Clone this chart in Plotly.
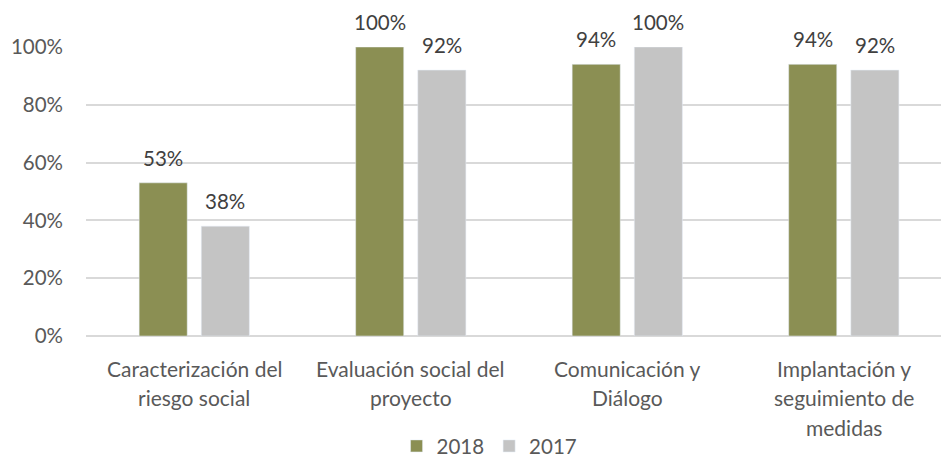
import plotly.graph_objects as go

categories = [
    ["Caracterización del", "riesgo social"],
    ["Evaluación social del", "proyecto"],
    ["Comunicación y", "Diálogo"],
    ["Implantación y", "seguimiento de", "medidas"],
]
series_2018 = [0.53, 1.00, 0.94, 0.94]
series_2017 = [0.38, 0.92, 1.00, 0.92]
y_ticks = [0, 0.2, 0.4, 0.6, 0.8, 1.0]
y_tick_labels = ["0%", "20%", "40%", "60%", "80%", "100%"]

GREEN = "#8B8F53"
GREY = "#C4C4C4"
FONT = "Lato"
TEXT_DARK = "#404040"
TEXT_AXIS = "#595959"
NUM_SIZE = 20.5
LABEL_SIZE = 21

x = list(range(len(categories)))
bar_w = 0.222
gap = 0.065
series = [("2018", series_2018, GREEN, -bar_w - gap / 2),
          ("2017", series_2017, GREY, gap / 2)]

fig = go.Figure()
for name, vals, color, off in series:
    fig.add_trace(go.Bar(
        x=x, y=vals, name=name, marker_color=color,
        width=bar_w, offset=off, cliponaxis=False,
    ))
    # value labels above each bar
    for i, v in enumerate(vals):
        fig.add_annotation(
            x=i + off + bar_w / 2, xref="x", y=v, yref="y",
            yanchor="bottom", yshift=11, text=f"{v:.0%}", showarrow=False,
            font=dict(size=NUM_SIZE, color=TEXT_DARK, family=FONT),
        )

# category labels, one annotation per line for wider line spacing
for i, lines in enumerate(categories):
    for j, line in enumerate(lines):
        fig.add_annotation(
            x=i, xref="x", y=0, yref="paper", yanchor="middle",
            yshift=-32 - 29.5 * j, text=line, showarrow=False,
            font=dict(size=LABEL_SIZE, color=TEXT_AXIS, family=FONT),
        )

fig.update_layout(
    width=941, height=457,
    margin=dict(l=86, r=0, t=47, b=121, autoexpand=False),
    plot_bgcolor="white", paper_bgcolor="white",
    font=dict(family=FONT, size=NUM_SIZE, color=TEXT_AXIS),
    showlegend=True,
    legend=dict(orientation="h", x=0.472, xanchor="center", y=-0.381, yanchor="middle",
                font=dict(size=NUM_SIZE, color=TEXT_AXIS, family=FONT),
                itemwidth=30, traceorder="normal"),
    xaxis=dict(range=[-0.5, 3.449], tickvals=[], showgrid=False, zeroline=False,
               showline=False),
    yaxis=dict(range=[0, 1], tickvals=y_ticks, ticktext=y_tick_labels,
               showgrid=True, gridcolor="#D9D9D9", gridwidth=1.5,
               zeroline=True, zerolinecolor="#D9D9D9", zerolinewidth=1.5,
               ticklabelstandoff=22,
               tickfont=dict(size=NUM_SIZE, color=TEXT_AXIS, family=FONT)),
)

fig.write_html("out.html")
